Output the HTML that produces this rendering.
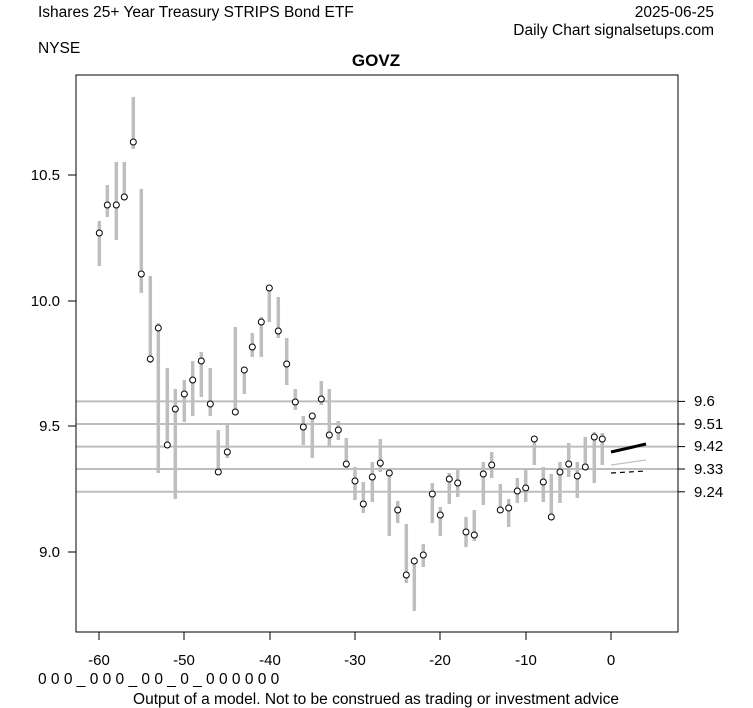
<!DOCTYPE html>
<html><head><style>body{margin:0;background:#fff}svg{display:block}text{font-family:"Liberation Sans",Arial,sans-serif}</style></head><body>
<svg width="753" height="708" viewBox="0 0 753 708" xmlns="http://www.w3.org/2000/svg">
<rect width="753" height="708" fill="#fff"/>
<text x="38" y="17" font-size="15.5">Ishares 25+ Year Treasury STRIPS Bond ETF</text>
<text x="714" y="17" font-size="15.5" text-anchor="end">2025-06-25</text>
<text x="714" y="35" font-size="15.5" text-anchor="end">Daily Chart signalsetups.com</text>
<text x="38" y="53" font-size="15.5">NYSE</text>
<text x="376" y="66" font-size="17" font-weight="bold" text-anchor="middle">GOVZ</text>
<g stroke="#bebebe" stroke-width="2">
<line x1="76" y1="401.4" x2="678" y2="401.4"/><line x1="76" y1="424" x2="678" y2="424"/><line x1="76" y1="446.6" x2="678" y2="446.6"/><line x1="76" y1="469" x2="678" y2="469"/><line x1="76" y1="491.8" x2="678" y2="491.8"/>
</g>
<g stroke="#bebebe" stroke-width="3.5" id="bars"></g>
<g fill="#fff" stroke="#000" stroke-width="1" id="pts"></g>
<line x1="611" y1="452" x2="646" y2="444" stroke="#000" stroke-width="3"/>
<line x1="611" y1="465" x2="646" y2="460" stroke="#bebebe" stroke-width="1.2"/>
<line x1="611" y1="473" x2="646" y2="471" stroke="#000" stroke-width="1.2" stroke-dasharray="5,4"/>
<rect x="76" y="75" width="602" height="557" fill="none" stroke="#000" stroke-width="1"/>
<g stroke="#000" stroke-width="1">
<line x1="68" y1="175" x2="76" y2="175"/><line x1="68" y1="301" x2="76" y2="301"/><line x1="68" y1="426" x2="76" y2="426"/><line x1="68" y1="552" x2="76" y2="552"/>
<line x1="99" y1="632" x2="99" y2="640"/><line x1="184" y1="632" x2="184" y2="640"/><line x1="270" y1="632" x2="270" y2="640"/><line x1="355" y1="632" x2="355" y2="640"/><line x1="440" y1="632" x2="440" y2="640"/><line x1="526" y1="632" x2="526" y2="640"/><line x1="611" y1="632" x2="611" y2="640"/>
<line x1="678" y1="401.4" x2="685" y2="401.4"/><line x1="678" y1="424" x2="685" y2="424"/><line x1="678" y1="446.6" x2="685" y2="446.6"/><line x1="678" y1="469" x2="685" y2="469"/><line x1="678" y1="491.8" x2="685" y2="491.8"/>
</g>
<g font-size="15" text-anchor="end">
<text x="60" y="180">10.5</text><text x="60" y="306">10.0</text><text x="60" y="431">9.5</text><text x="60" y="557">9.0</text>
</g>
<g font-size="15">
<text x="694" y="406">9.6</text><text x="694" y="429">9.51</text><text x="694" y="451">9.42</text><text x="694" y="474">9.33</text><text x="694" y="497">9.24</text>
</g>
<g font-size="15" text-anchor="middle">
<text x="99" y="665">-60</text><text x="184" y="665">-50</text><text x="270" y="665">-40</text><text x="355" y="665">-30</text><text x="440" y="665">-20</text><text x="526" y="665">-10</text><text x="611" y="665">0</text>
</g>
<text x="38" y="684" font-size="15.5">0 0 0 _ 0 0 0 _ 0 0 _ 0 _ 0 0 0 0 0 0</text>
<text x="376" y="704" font-size="15.5" text-anchor="middle">Output of a model. Not to be construed as trading or investment advice</text>
<script>
var d=[[99.3,221,266,233],[107.3,185,217,205],[116.3,162,240,205],[124.3,162,200,197],[133.3,97,149,142],[141.3,189,293,274],[150.3,276,363,359],[158.3,323,473,328],[167.3,368,446,445],[175.3,389,499,409],[184.3,380,422,394],[192.7,361,416,380],[201.3,352,397,361],[210.3,368,416,404],[218.3,430,473,472],[227.3,425,458,452],[235.3,327,415,412],[244.3,367,394,370],[252.3,333,357,347],[261.3,317,357,322],[269.3,288,322,288],[278.3,297,338,331],[286.7,338,385,364],[295.3,389,410,402],[303.3,416,445,427],[312.3,416,458,416],[321.3,381,405,399],[329.3,389,446,435],[338.3,421,440,430],[346.3,438,468,464],[355,467,500,481],[363.3,482,513,504],[372.3,462,502,477],[380.3,439,472,463],[389.3,471,536,473],[397.7,501,523,510],[406.3,524,583,575],[414.3,557,611,561],[423.3,544,567,555],[432.3,483,523,494],[440.3,507,536,515],[449.3,473,504,479],[457.7,468,497,483],[466,517,547,532],[474.3,510,541,535],[483.3,462,505,474],[491.7,452,478,465],[500.3,484,513,510],[508.7,499,527,508],[517.3,478,503,491],[525.7,470,502,488],[534.3,439,465,439],[543.3,467,502,482],[551.3,474,520,517],[560,462,503,472],[568.7,443,477,464],[577.3,462,498,476],[585.3,437,470,467],[594.3,432,483,437],[602.3,433,465,439]];
var ns="http://www.w3.org/2000/svg",b=document.getElementById("bars"),p=document.getElementById("pts");
d.forEach(function(r){var l=document.createElementNS(ns,"line");l.setAttribute("x1",r[0]);l.setAttribute("x2",r[0]);l.setAttribute("y1",r[1]);l.setAttribute("y2",r[2]);b.appendChild(l);
var c=document.createElementNS(ns,"circle");c.setAttribute("cx",r[0]);c.setAttribute("cy",r[3]);c.setAttribute("r",3);p.appendChild(c);});
</script>
</svg>
</body></html>
